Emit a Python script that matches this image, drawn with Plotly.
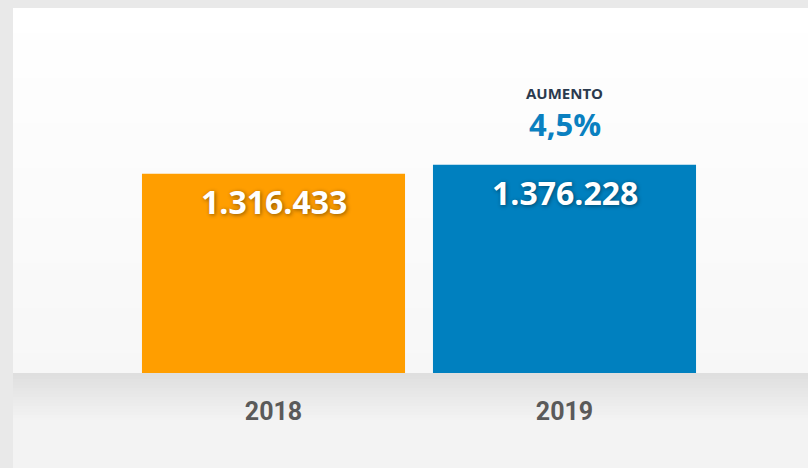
import plotly.graph_objects as go

# data
years = ["2018", "2019"]
values = [1316433, 1376228]
bar_colors = ["#FF9E00", "#0080BF"]
increase_label = "AUMENTO"


def fmt_pt(v):
    return f"{v:,}".replace(",", ".")


pct = (values[1] / values[0] - 1) * 100
pct_text = f"{pct:.1f}%".replace(".", ",")

W, H = 808, 468
L, R, T, B = 128, 98, 40, 95
PW, PH = W - L - R, H - T - B


def px_x(x):
    return (x - L) / PW


def px_y(y):
    return (H - B - y) / PH


def mix(c1, c2, f):
    a = [int(c1[i:i + 2], 16) for i in (1, 3, 5)]
    b = [int(c2[i:i + 2], 16) for i in (1, 3, 5)]
    return "rgb(%d,%d,%d)" % tuple(round(a[k] + (b[k] - a[k]) * f) for k in range(3))


shapes = []
# white card, slightly graded towards the bottom
card_top, card_bot = 8, 373
step = 5
y = card_top
while y < card_bot:
    y2 = min(y + step, card_bot)
    shapes.append(dict(type="rect", xref="paper", yref="paper", layer="below",
                       x0=px_x(13), x1=px_x(W), y0=px_y(y2), y1=px_y(y),
                       fillcolor=mix("#FFFFFF", "#F7F7F7", (y - card_top) / (card_bot - card_top)),
                       line_width=0))
    y = y2
# grey band under the bars
y = 373
while y < H:
    f = min(1.0, (y - 373) / 45)
    y2 = y + 3
    shapes.append(dict(type="rect", xref="paper", yref="paper", layer="below",
                       x0=px_x(13), x1=px_x(W), y0=px_y(y2), y1=px_y(y),
                       fillcolor=mix("#DFDFDF", "#F3F3F3", f), line_width=0))
    y = y2

fig = go.Figure(go.Bar(
    x=years, y=values, marker_color=bar_colors, marker_line_width=0,
    width=0.904, hoverinfo="skip",
))

annotations = []
for i, v in enumerate(values):
    annotations.append(dict(
        x=i, y=v, xref="x", yref="y", text=fmt_pt(v), showarrow=False,
        yanchor="middle", yshift=-28,
        font=dict(family="Open Sans", size=32, color="white", weight="bold",
                  shadow="1px 1px 4px rgba(0,0,0,0.45)"),
    ))
annotations.append(dict(
    x=1, y=values[1], xref="x", yref="y", text=increase_label,
    showarrow=False, yanchor="middle", yshift=72,
    font=dict(family="Open Sans", size=15, color="#2B3A4E", weight="bold"),
))
annotations.append(dict(
    x=1, y=values[1], xref="x", yref="y", text=pct_text,
    showarrow=False, yanchor="middle", yshift=41,
    font=dict(family="Open Sans", size=31, color="#0A80C0", weight="bold"),
))

fig.update_layout(
    width=W, height=H,
    margin=dict(l=L, r=R, t=T, b=B, pad=0),
    paper_bgcolor="#E9E9E9", plot_bgcolor="rgba(0,0,0,0)",
    showlegend=False, bargap=0.096,
    shapes=shapes, annotations=annotations,
    xaxis=dict(type="category", range=[-0.5, 1.5], showgrid=False, zeroline=False, showline=False,
               ticks="", ticklabelstandoff=21,
               tickfont=dict(family="Roboto", size=25, color="#5A5A5A", weight="bold")),
    yaxis=dict(range=[0, 2200000], visible=False, showgrid=False, zeroline=False),
)

fig.write_html("out.html", config={"displayModeBar": False},
               post_script="document.body.style.margin='0';")
